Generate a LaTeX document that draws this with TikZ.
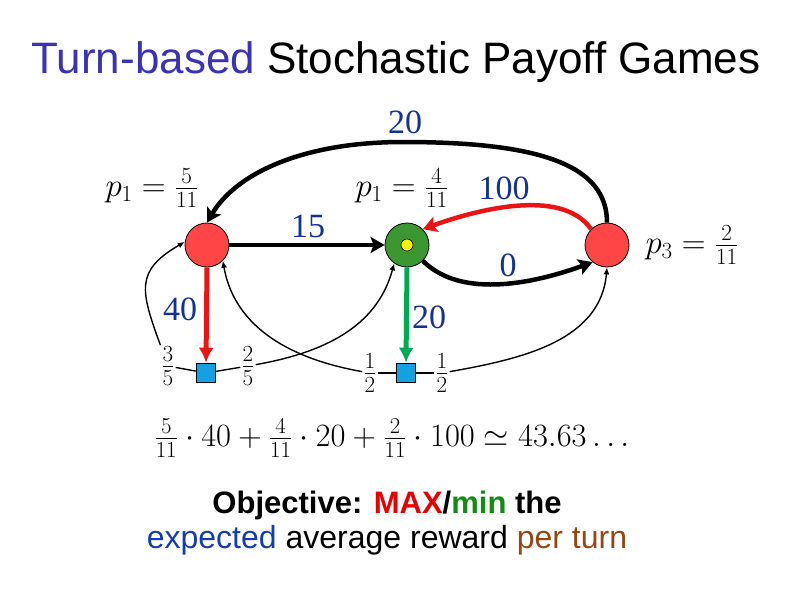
\RequirePackage{fix-cm}
\documentclass[tikz,border=0pt]{standalone}
\usepackage{amsmath}
\usepackage[no-math]{fontspec}
\newfontfamily\arialf{Liberation Sans}
\newfontfamily\numfont{Liberation Serif}
\usetikzlibrary{arrows.meta, positioning}
\definecolor{titleblue}{RGB}{60,50,180}
\definecolor{numblue}{RGB}{20,50,150}
\definecolor{maxred}{RGB}{255,70,70}
\definecolor{mingreen}{RGB}{60,150,50}
\definecolor{randblue}{RGB}{20,160,225}
\definecolor{arrred}{RGB}{235,20,20}
\definecolor{arrgreen}{RGB}{0,170,80}
\definecolor{maxtext}{RGB}{230,0,0}
\definecolor{mintext}{RGB}{20,140,20}
\definecolor{exptext}{RGB}{20,60,180}
\definecolor{pertext}{RGB}{150,70,20}

\begin{document}
\begin{tikzpicture}[x=1pt, y=-1pt,
  maxst/.style={circle, draw=black, line width=0.8pt, fill=maxred, minimum size=44pt, inner sep=0pt},
  minst/.style={circle, draw=black, line width=0.8pt, fill=mingreen, minimum size=44pt, inner sep=0pt},
  dotst/.style={circle, draw=black, line width=0.6pt, fill=yellow, minimum size=12pt, inner sep=0pt},
  rnd/.style={rectangle, draw=black, line width=1.5pt, fill=randblue, minimum size=19pt, inner sep=0pt},
  rew/.style={font=\numfont\fontsize{34}{40}\selectfont, text=numblue, inner sep=1pt},
  prob/.style={font=\fontsize{33}{38}\selectfont, inner sep=1pt},
  big/.style={-{Stealth[length=14pt, width=16pt, inset=3pt]}, line width=4.5pt},
  vert/.style={-{Latex[length=15pt, width=15pt]}, line width=5pt},
  seg/.style={line width=1.4pt},
  lnk/.style={seg, -{Latex[length=7pt, width=6pt]}},
]
  \useasboundingbox (0,0) rectangle (794,595);

  \node[font=\arialf\fontsize{44}{50}\selectfont, anchor=base] (ttl) at (396,73)
    {\textcolor{titleblue}{Turn-based} Stochastic Payoff Games};

  % states
  \node[maxst] (a) at (207,245) {};
  \node[minst] (b) at (407,245) {};
  \node[dotst] (bdot) at (b) {};
  \node[maxst] (c) at (607,245) {};
  \node[rnd]   (s1) at (206,373) {};
  \node[rnd]   (s2) at (406,373) {};

  % probabilities
  \node[prob] (pa) at (152,188) {$p_1=\frac{5}{11}$};
  \node[prob] (pb) at (402,188) {$p_1=\frac{4}{11}$};
  \node[prob] (pc) at (692,245) {$p_3=\frac{2}{11}$};
  \node[prob] (f35)  at (168,366) {$\frac{3}{5}$};
  \node[prob] (f25)  at (248,366) {$\frac{2}{5}$};
  \node[prob] (f12a) at (370,373) {$\frac{1}{2}$};
  \node[prob] (f12b) at (442,373) {$\frac{1}{2}$};

  % rewards
  \node[rew] (r20) at (405,122) {20};
  \node[rew] (r15) at (308,226) {15};
  \node[rew] (r100) at (504,188) {100};
  \node[rew] (r0) at (508,265) {0};
  \node[rew] (r40) at (180,309) {40};
  \node[rew] (r20b) at (429,317) {20};

  \draw[big] (a) -- (b);
  \draw[big] (c.north) .. controls (607,165) and (540,142) .. (403,142)
    .. controls (300,142) and (235,175) .. (a.north);
  \draw[big, arrred] (c.135) to[out=125, in=20, looseness=0.8] (b.45);
  \draw[big] (b.-45) to[out=-45, in=200, looseness=0.85] (c.230);
  \draw[vert, arrred] (a.south) -- (s1.north);
  \draw[vert, arrgreen] (b.south) -- (s2.north);

  % random moves
  \draw[seg] (s1) -- (f35);
  \draw[lnk] (f35) to[out=110, in=210, looseness=1.4] (a.172);
  \draw[seg] (s1) -- (f25);
  \draw[lnk] (f25) to[out=10, in=255] (b.235);
  \draw[seg] (s2) -- (f12a);
  \draw[lnk] (f12a) to[out=170, in=-80] (a.-45);
  \draw[seg] (s2) -- (f12b);
  \draw[lnk] (f12b) to[out=10, in=-95] (c.south);

  \node[font=\fontsize{32.5}{38}\selectfont] (sum) at (392,438)
    {$\frac{5}{11}\cdot 40+\frac{4}{11}\cdot 20+\frac{2}{11}\cdot 100\simeq 43.63\ldots$};

  \node[font=\arialf\bfseries\fontsize{31}{36}\selectfont, anchor=base] (obj1) at (387,513)
    {Objective: \textcolor{maxtext}{MAX}/\textcolor{mintext}{min} the};
  \node[font=\arialf\fontsize{32}{36}\selectfont, anchor=base] (obj2) at (387,548)
    {\textcolor{exptext}{expected} average reward \textcolor{pertext}{per turn}};
\end{tikzpicture}
\end{document}
